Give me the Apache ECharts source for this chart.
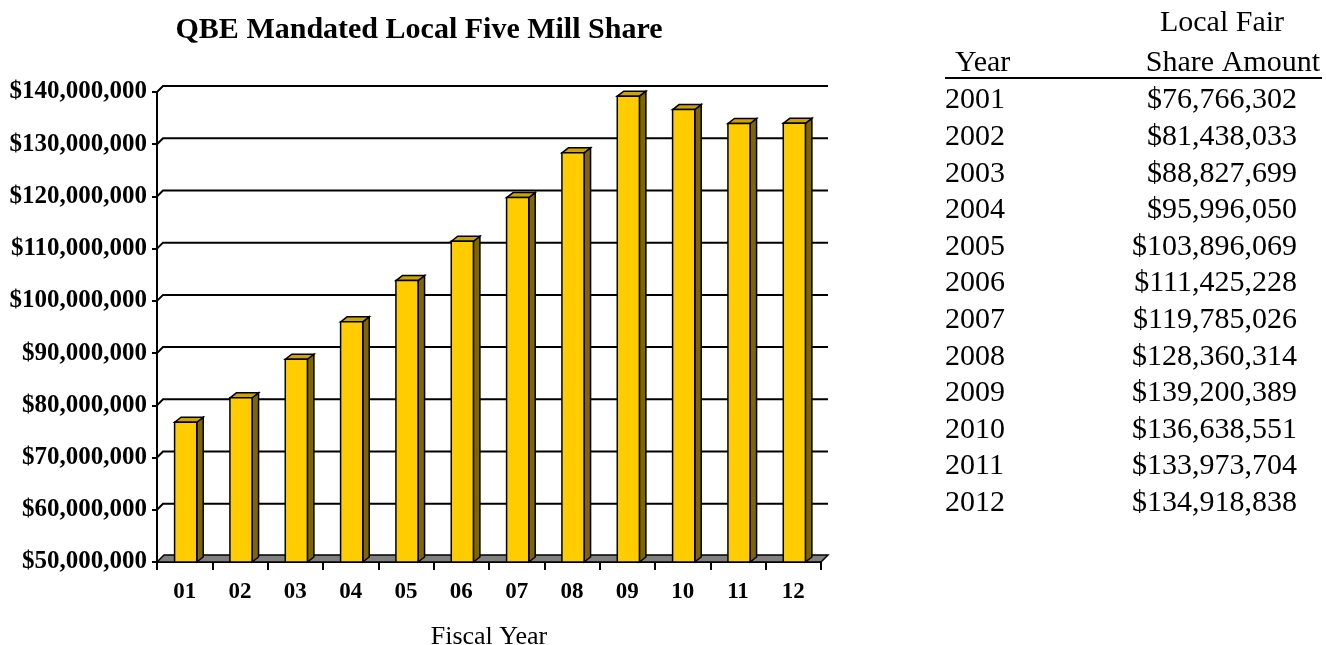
<!DOCTYPE html>
<html>
<head>
<meta charset="utf-8">
<script src="https://cdn.jsdelivr.net/npm/echarts@6/dist/echarts.min.js"></script>
<style>
html,body{margin:0;padding:0;background:#fff;}
#chart{width:1326px;height:645px;}
</style>
</head>
<body>
<div id="chart"></div>
<script>
// ---- data ----
const categories = ['01','02','03','04','05','06','07','08','09','10','11','12'];
// bar heights as drawn in the chart
const barValues = [76766302, 81438033, 88827699, 95996050, 103896069, 111425228, 119785026, 128360314, 139200389, 136638551, 133973704, 134000000];
// table on the right
const years = ['2001','2002','2003','2004','2005','2006','2007','2008','2009','2010','2011','2012'];
const amounts = [76766302, 81438033, 88827699, 95996050, 103896069, 111425228, 119785026, 128360314, 139200389, 136638551, 133973704, 134918838];
const yMin = 50000000;
const yMax = 140000000;
const yStep = 10000000;
const gridValues = [60000000, 70000000, 80000000, 90000000, 100000000, 110000000, 120000000, 130000000, 140000000];
const titleText = 'QBE Mandated Local Five Mill Share';
const xAxisName = 'Fiscal Year';
const tableHeader = ['Local Fair', 'Year', 'Share Amount'];

// ---- style ----
const SERIF = "'Liberation Serif', 'Times New Roman', serif";
const DX = 7, DY = 7;
const fmt = v => '$' + v.toString().replace(/\B(?=(\d{3})+(?!\d))/g, ',');

const chart = echarts.init(document.getElementById('chart'), null, {renderer: 'canvas'});

const graphics = [];
graphics.push({type:'text', x:419, y:30, style:{text:titleText, font:'bold 30px ' + SERIF, fill:'#000', textAlign:'center', textVerticalAlign:'middle'}});
// table
graphics.push({type:'text', x:1222, y:23, style:{text:tableHeader[0], font:'30px ' + SERIF, fill:'#000', textAlign:'center', textVerticalAlign:'middle'}});
graphics.push({type:'text', x:955, y:63, style:{text:tableHeader[1], font:'30px ' + SERIF, fill:'#000', textAlign:'left', textVerticalAlign:'middle'}});
graphics.push({type:'text', x:1320, y:63, style:{text:tableHeader[2], font:'30px ' + SERIF, fill:'#000', textAlign:'right', textVerticalAlign:'middle'}});
graphics.push({type:'line', shape:{x1:945, y1:78, x2:1322, y2:78}, style:{stroke:'#000', lineWidth:2}});
years.forEach((yr, i) => {
  const yy = 100.5 + i * 36.6;
  graphics.push({type:'text', x:945, y:yy, style:{text:yr, font:'30px ' + SERIF, fill:'#000', textAlign:'left', textVerticalAlign:'middle'}});
  graphics.push({type:'text', x:1297, y:yy, style:{text:fmt(amounts[i]), font:'30px ' + SERIF, fill:'#000', textAlign:'right', textVerticalAlign:'middle'}});
});

const option = {
  animation: false,
  backgroundColor: '#fff',
  grid: {left:157, right:505, top:92, bottom:83, containLabel:false, outerBoundsMode:'none'},
  xAxis: {
    type: 'category',
    data: categories,
    boundaryGap: true,
    axisLine: {show:true, lineStyle:{color:'#000', width:2}},
    axisTick: {show:true, length:8, lineStyle:{color:'#000', width:2}},
    axisLabel: {color:'#000', fontFamily:SERIF, fontWeight:'bold', fontSize:23, margin:19},
    name: xAxisName,
    nameLocation: 'middle',
    nameGap: 62,
    nameTextStyle: {color:'#000', fontFamily:SERIF, fontSize:26},
    splitLine: {show:false}
  },
  yAxis: {
    type: 'value',
    min: yMin, max: yMax, interval: yStep,
    axisLine: {show:true, lineStyle:{color:'#000', width:2}},
    axisTick: {show:true, length:5, lineStyle:{color:'#000', width:2}},
    axisLabel: {color:'#000', fontFamily:SERIF, fontWeight:'bold', fontSize:25, margin:10, formatter: v => fmt(v)},
    splitLine: {show:false}
  },
  graphic: graphics,
  series: [
    {
      type: 'custom', z: 1,
      data: gridValues.map(v => [0, v]),
      encode: {x:0, y:1},
      renderItem: (params, api) => {
        const cs = params.coordSys;
        const y = api.coord([0, api.value(1)])[1];
        return {type:'polyline', shape:{points:[[cs.x, y],[cs.x + DX - 1, y - DY + 1],[cs.x + cs.width + DX, y - DY + 1]]},
          style:{stroke:'#000', lineWidth:2, fill:null}};
      }
    },
    {
      type: 'custom', z: 2,
      data: [[0, yMin]],
      encode: {x:0, y:1},
      renderItem: (params, api) => {
        const cs = params.coordSys;
        const y = api.coord([0, api.value(1)])[1];
        return {type:'polygon', shape:{points:[[cs.x, y],[cs.x + cs.width, y],[cs.x + cs.width + DX, y - DY],[cs.x + DX, y - DY]]},
          style:{fill:'#808080', stroke:'#000', lineWidth:1.5}};
      }
    },
    {
      type: 'custom', z: 3,
      data: barValues.map((v, i) => [i, v]),
      encode: {x:0, y:1},
      renderItem: (params, api) => {
        const i = api.value(0);
        const top = api.coord([i, api.value(1)]);
        const base = api.coord([i, yMin]);
        const w = api.size([1, 0])[0] * 0.4;
        const x0 = top[0] - w / 2 + 1, x1 = x0 + w;
        const yt = top[1], yb = base[1];
        const dx = 6.5, dy = 5;
        return {type:'group', children:[
          {type:'polygon', shape:{points:[[x1, yt],[x1 + dx, yt - dy],[x1 + dx, yb - dy],[x1, yb]]}, style:{fill:'#806600', stroke:'#000', lineWidth:1.5}},
          {type:'polygon', shape:{points:[[x0, yt],[x0 + dx, yt - dy],[x1 + dx, yt - dy],[x1, yt]]}, style:{fill:'#CCA300', stroke:'#000', lineWidth:1.5}},
          {type:'rect', shape:{x:x0, y:yt, width:w, height:yb - yt}, style:{fill:'#FFCC00', stroke:'#000', lineWidth:1.5}}
        ]};
      }
    }
  ]
};
chart.setOption(option);
</script>
</body>
</html>
